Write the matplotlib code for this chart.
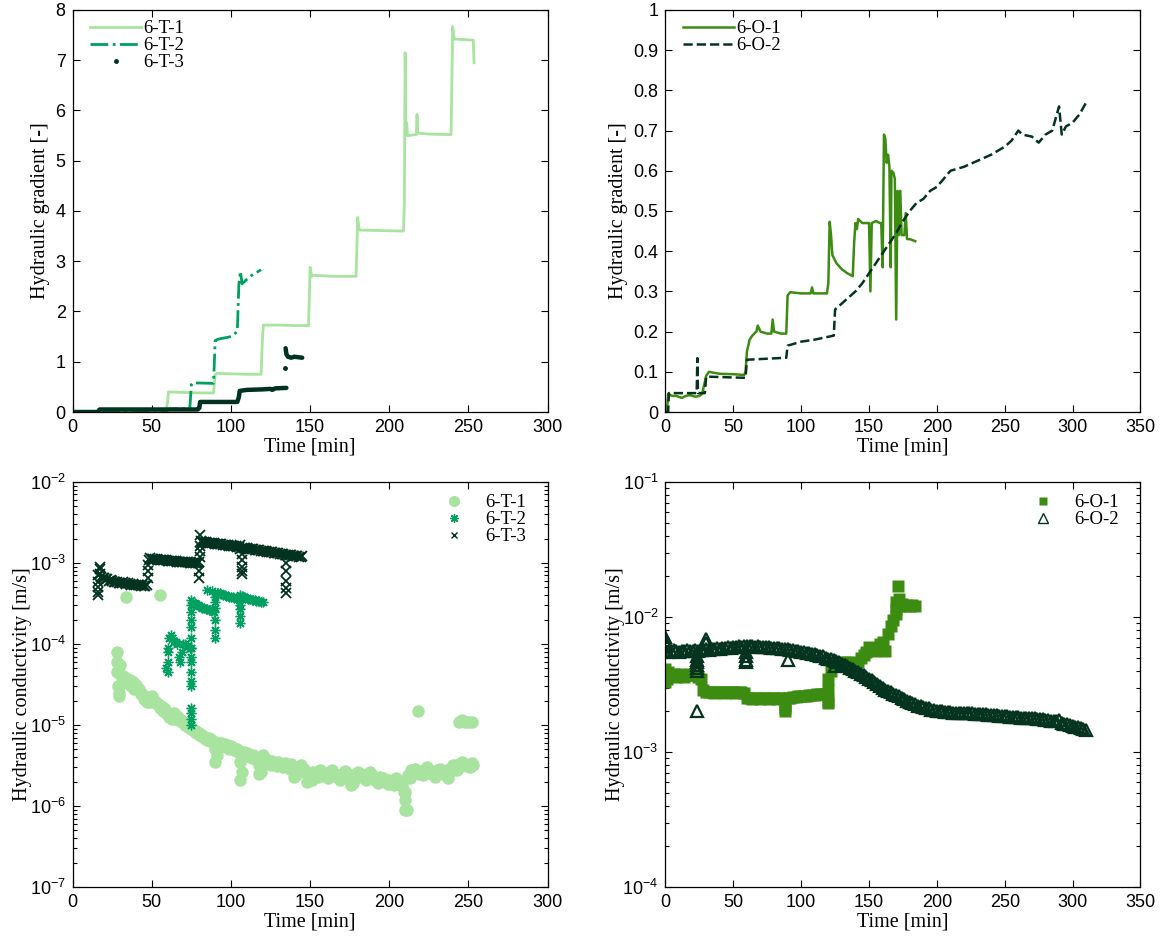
import numpy as np
import matplotlib
matplotlib.use("Agg")
import matplotlib.pyplot as plt
from matplotlib.lines import Line2D
from matplotlib.ticker import FuncFormatter

# ---- colours ----
C_T1 = "#a8e3a0"
C_T2 = "#00a060"
C_T3 = "#00331f"
C_O1 = "#3d8c12"
C_O2 = "#04331f"

# ---- top-left: hydraulic gradient, 6-T tests (time [min], gradient [-]) ----
T1_grad_t = [0, 28, 59, 60, 60.5, 70, 80, 89, 90, 91, 100, 110, 119, 120, 120.5, 130, 140, 149,
             150, 151, 152, 165, 179, 180, 181, 195, 209, 209.5, 210, 210.5, 211, 211.5, 217,
             217.5, 218, 225, 239, 240, 241, 253, 253.5]
T1_grad = [0, 0.01, 0.02, 0.2, 0.4, 0.39, 0.38, 0.38, 0.74, 0.77, 0.76, 0.75, 0.75, 1.55, 1.73,
           1.73, 1.72, 1.72, 2.88, 2.7, 2.72, 2.7, 2.7, 3.87, 3.62, 3.61, 3.6, 4.2, 7.15, 5.6,
           5.75, 5.5, 5.52, 5.92, 5.55, 5.53, 5.52, 7.67, 7.42, 7.4, 6.95]
T2_grad_t = [0, 20, 40, 60, 61, 74, 75, 76, 89, 90, 92, 100, 104, 105, 106, 107, 112, 119]
T2_grad = [0, 0.0, 0.01, 0.03, 0.06, 0.07, 0.55, 0.58, 0.57, 1.42, 1.45, 1.5, 1.6, 2.55, 2.8,
           2.55, 2.7, 2.83]
T3_grad_t = [0, 16, 17, 50, 79, 80, 80.5, 104, 105, 105.5, 110, 120, 125, 126, 128, 135]
T3_grad = [0, 0.0, 0.05, 0.05, 0.05, 0.08, 0.2, 0.2, 0.3, 0.42, 0.44, 0.45, 0.46, 0.44, 0.47, 0.48]
T3_grad2_t = [134.5, 135, 136, 138, 140, 145]
T3_grad2 = [1.27, 1.15, 1.1, 1.08, 1.1, 1.08]
T3_dot_t = [134]
T3_dot = [0.87]

# ---- top-right: hydraulic gradient, 6-O tests ----
O1_grad_t = [0, 1, 2, 5, 8, 12, 15, 18, 22, 25, 27, 28, 30, 32, 40, 50, 58, 59, 60, 62, 64, 67,
             68, 70, 75, 78, 79, 80, 85, 89, 90, 92, 100, 107, 108, 109, 119, 120, 121, 122, 123,
             126, 130, 134, 138, 139, 140, 141, 142, 145, 150, 151, 152, 155, 158, 159, 160, 161,
             162, 163, 164, 165, 166, 166.5, 168, 169, 170, 171, 172, 173, 174, 176, 177, 178,
             180, 184]
O1_grad = [0, 0, 0.045, 0.04, 0.04, 0.035, 0.04, 0.042, 0.038, 0.04, 0.045, 0.06, 0.09, 0.1,
           0.095, 0.094, 0.092, 0.1, 0.15, 0.18, 0.19, 0.2, 0.215, 0.2, 0.195, 0.195, 0.23, 0.2,
           0.195, 0.195, 0.29, 0.298, 0.295, 0.295, 0.31, 0.295, 0.295, 0.32, 0.473, 0.44, 0.39,
           0.37, 0.355, 0.345, 0.338, 0.42, 0.47, 0.455, 0.48, 0.47, 0.47, 0.30, 0.47, 0.475,
           0.47, 0.47, 0.36, 0.69, 0.68, 0.62, 0.64, 0.61, 0.36, 0.6, 0.595, 0.58, 0.23, 0.55,
           0.44, 0.55, 0.44, 0.44, 0.495, 0.43, 0.43, 0.425]
O2_grad_t = [0, 2, 2.5, 23, 23.5, 24, 29, 30, 59, 60, 89, 90, 100, 110, 124, 125, 130, 135, 140,
             145, 150, 155, 160, 165, 170, 175, 180, 185, 190, 195, 200, 205, 210, 220, 230, 240,
             250, 255, 260, 263, 270, 275, 280, 285, 290, 292, 295, 300, 305, 310]
O2_grad = [0, 0, 0.047, 0.047, 0.134, 0.047, 0.047, 0.088, 0.085, 0.13, 0.135, 0.165, 0.175,
           0.18, 0.19, 0.255, 0.27, 0.285, 0.30, 0.32, 0.345, 0.37, 0.395, 0.42, 0.445, 0.475,
           0.5, 0.52, 0.53, 0.55, 0.56, 0.58, 0.6, 0.61, 0.625, 0.64, 0.66, 0.675, 0.7, 0.69,
           0.685, 0.67, 0.69, 0.70, 0.76, 0.69, 0.71, 0.72, 0.74, 0.77]

# ---- bottom-left: hydraulic conductivity, 6-T tests ----
T1_k_start, T1_k_step = 28, 2          # 6-T-1 sampled every 2 min, values in 1e-6 m/s
T1_k = [45, 42, 40, 38, 36, 34, 31, 28, 24, 21, 22, 23, 20, 18, 17, 16, 14, 13, 14, 13,
        12, 11, 10.5, 10, 9, 8.5, 8, 7.5, 7, 7, 6.5, 5.0, 6, 6, 5.8, 5.5, 5.5, 5.2, 5, 3.5,
        4.6, 4.5, 4.2, 4.3, 4, 3.2, 4.2, 3.8, 3.5, 3.6, 3.4, 3.5, 3.2, 3.4, 3.2, 3.3, 2.9, 3.0,
        3.2, 2.9, 2.5, 2.3, 2.6, 2.5, 2.8, 2.6, 2.4, 2.6, 2.8, 2.5, 2.3, 2.5, 2.7, 2.5, 2.2,
        2.4, 2.6, 2.5, 2.3, 2.5, 2.6, 2.3, 2.1, 2.3, 2.2, 2.0, 2.1, 2.0, 2.2, 2.0, 1.8, 1.2,
        2.4, 2.8, 2.9, 2.7, 2.6, 2.8, 3.0, 2.7, 2.5, 2.8, 2.9, 2.6, 2.4, 2.9, 3.2, 3.0, 3.3,
        3.5, 3.3, 3.2, 3.4]
# a second, slightly offset reading of the same band (the scatter is thick in the figure)
T1_k_b = [30, 33, 35, 33, 30, 28, 27, 24, 21, 19, 19, 20, 18, 16, 15, 14, 12.5, 12, 12, 11.5,
          11, 10, 9.5, 9, 8.2, 7.8, 7.4, 7, 6.5, 6.4, 6, 4.2, 5.6, 5.5, 5.3, 5.1, 5, 4.8, 4.6, 2.6,
          4.2, 4.1, 3.9, 3.9, 3.7, 2.6, 3.9, 3.5, 3.2, 3.3, 3.1, 3.2, 3.0, 3.1, 2.9, 3.0, 2.4, 2.8,
          2.9, 2.7, 2.3, 2.1, 2.4, 2.3, 2.5, 2.4, 2.2, 2.4, 2.5, 2.3, 2.1, 2.3, 2.5, 2.3, 1.9,
          2.2, 2.4, 2.3, 2.1, 2.3, 2.4, 2.1, 1.9, 2.1, 2.0, 1.85, 1.9, 1.8, 2.0, 1.8, 1.5, 0.9,
          2.2, 2.5, 2.6, 2.5, 2.4, 2.6, 2.7, 2.5, 2.3, 2.6, 2.7, 2.4, 2.2, 2.7, 3.0, 2.8, 3.1,
          3.2, 3.1, 3.0, 3.2]
T1_out_t = [28, 28, 28.5, 29, 29, 30, 34, 55, 90, 106, 118, 140, 148, 176, 210, 210, 218,
            244, 246, 248, 250, 252]
T1_out = [80, 60, 30, 25, 23, 55, 380, 400, 3.5, 2.1, 2.5, 2.3, 2.0, 1.8, 0.9, 1.5, 15,
          11, 11.5, 11, 11, 10.8]

T2_k_start, T2_k_step = 59, 1          # 6-T-2, values in 1e-5 m/s
T2_k = [5, 9, 12, 13, 12, 11, 10.5, 10, 7, 6, 8, 10, 10, 9.5, 9.5, 9, 9, 30, 32, 31, 30,
        29, 28.5, 28, 28, 27, 27, 26.5, 26, 26, 25, 38, 42, 43, 42, 41, 40, 40, 39, 39, 38,
        38, 37.5, 37, 37, 36, 36, 40, 39, 38, 37, 37, 36, 36, 35, 35, 34.5, 34, 34, 33.5, 33, 33]
T2_out_t = [60, 60, 60, 75, 75, 75, 75, 75, 75, 75, 75, 75, 75, 75, 75, 75, 75, 75, 75,
            85, 88, 90, 90, 90, 90, 90, 106, 106, 106, 106]
T2_out = [4.5, 6, 8, 35, 30, 25, 20, 16, 12, 9, 7, 6, 4.5, 3.5, 3, 1.6, 1.4, 1.2, 1.0,
          47, 45, 12, 15, 20, 28, 33, 18, 22, 27, 30]

T3_k_start, T3_k_step = 16, 1          # 6-T-3, values in 1e-4 m/s
T3_k = [7.0, 7.4, 6.8, 6.6, 6.5, 6.4, 6.3, 6.0, 6.2, 6.0, 5.9, 5.8, 5.8, 5.7, 5.7, 5.6, 5.8,
        5.6, 5.5, 5.6, 5.5, 5.4, 5.5, 5.4, 5.3, 5.4, 5.3, 5.2, 5.3, 5.2, 5.2, 5.3,
        11.0, 11.5, 11.3, 11.2, 11.2, 11.1, 11.0, 11.0, 10.9, 10.9, 10.8, 10.8, 10.7, 10.7,
        10.6, 10.6, 10.5, 10.5, 10.4, 10.4, 10.4, 10.3, 10.3, 10.2, 10.2, 10.2, 10.1, 10.1,
        10.0, 10.0, 10.0, 10.1, 10.3,
        18.5, 18.2, 18.0, 17.9, 17.8, 17.7, 17.6, 17.5, 17.4, 17.3,
        17.2, 17.1, 17.0, 16.9, 16.8, 16.7, 16.6, 16.5, 16.4, 16.3,
        16.2, 16.1, 16.0, 15.9, 15.8, 15.0, 15.5, 15.4, 15.3, 15.2,
        15.0, 14.9, 14.8, 14.7, 14.6, 14.5, 14.4, 14.3, 14.2, 14.1,
        14.0, 13.9, 13.8, 13.7, 13.6, 13.5, 13.4, 13.3, 13.2, 13.1,
        13.0, 12.9, 12.8, 12.7, 12.5, 12.6, 12.5, 12.4, 12.3, 12.2,
        12.2, 12.1, 12.0, 12.0, 12.1]
T3_out_t = [16, 16, 16, 16, 17, 17, 47.5, 47.5, 47.5, 80, 80, 80.5, 80.5, 80.5, 80.5, 106,
            107, 107, 107, 107, 107, 135, 135, 135, 135, 135]
T3_out = [4.0, 4.4, 5.0, 5.8, 8.5, 9, 6.5, 8, 9.5, 6.5, 8, 12, 14, 16, 22, 16.5,
          7.4, 8, 9, 11, 13, 4.9, 4.2, 6, 8, 10]

# ---- bottom-right: hydraulic conductivity, 6-O tests (values in 1e-3 m/s) ----
O1_k_start, O1_k_step = 0, 2
O1_k = [3.8, 3.9, 3.7, 3.8, 3.6, 3.8, 3.7, 3.6, 3.7, 3.8,
        3.7, 3.7, 3.6, 3.5, 2.9, 2.8, 2.8, 2.8, 2.75, 2.8,
        2.8, 2.8, 2.75, 2.8, 2.8, 2.8, 2.75, 2.8, 2.8, 2.75,
        2.5, 2.5, 2.45, 2.5, 2.5, 2.45, 2.5, 2.5, 2.45, 2.5,
        2.5, 2.45, 2.5, 2.5, 2.1, 2.5, 2.5, 2.55, 2.55, 2.6,
        2.6, 2.6, 2.6, 2.65, 2.65, 2.65, 2.7, 2.7, 2.7, 2.7,
        2.4, 4.0, 4.3, 4.4, 4.5, 4.5, 4.6, 4.6, 4.5, 4.2,
        4.0, 4.6, 5.0, 5.2, 5.5, 6.0, 5.8, 5.6, 5.8, 6.3,
        6.5, 5.6, 7.5, 8.5, 9.5, 10.5, 12, 12.5, 12, 12.2,
        12, 12.3, 12]
O1_out_t = [0, 0, 1, 88, 88, 120, 120, 120, 170, 170, 171, 172]
O1_out = [3.3, 4.1, 3.5, 2.0, 2.2, 2.3, 2.9, 3.5, 11.5, 13, 17, 13.5]

O2_k_start, O2_k_step = 0, 2
O2_k = [5.6, 5.5, 5.6, 5.7, 5.6, 5.5, 5.6, 5.6, 5.7, 5.6, 5.6,
        5.7, 5.6, 5.7, 5.7, 5.8, 5.7, 5.8, 5.8, 5.9, 5.8,
        5.9, 5.9, 6.0, 5.9, 6.0, 6.0, 6.1, 6.0, 6.1, 6.1,
        6.1, 6.1, 6.0, 6.1, 6.0, 6.0, 6.0, 6.0, 5.9, 5.9,
        5.9, 5.9, 5.8, 5.8, 5.8, 5.7, 5.7, 5.6, 5.6, 5.5,
        5.5, 5.4, 5.4, 5.3, 5.3, 5.2, 5.1, 5.1, 5.0, 4.9,
        4.9, 4.8, 4.7, 4.6, 4.5, 4.4, 4.3, 4.2, 4.1, 4.0,
        3.9, 3.8, 3.7, 3.6, 3.5, 3.4, 3.3, 3.2, 3.1, 3.0,
        2.9, 2.85, 2.8, 2.7, 2.65, 2.6, 2.5, 2.45, 2.4, 2.35,
        2.3, 2.25, 2.2, 2.2, 2.15, 2.1, 2.1, 2.05, 2.05, 2.0,
        2.0, 2.0, 1.98, 1.98, 1.97, 1.96, 1.96, 1.95, 1.95, 1.95,
        1.94, 1.93, 1.93, 1.92, 1.92, 1.91, 1.9, 1.9, 1.89, 1.88,
        1.88, 1.87, 1.86, 1.86, 1.85, 1.84, 1.83, 1.83, 1.82, 1.81,
        1.8, 1.8, 1.79, 1.78, 1.77, 1.77, 1.76, 1.75, 1.74, 1.73,
        1.72, 1.71, 1.7, 1.69, 1.72, 1.65, 1.62, 1.6, 1.58, 1.56,
        1.54, 1.52, 1.5, 1.48, 1.46]
O2_out_t = [0, 0, 0, 1, 23, 23, 23, 23, 23, 23, 23, 30, 30, 59, 59, 59, 59, 90, 125]
O2_out = [6.5, 7.1, 6.8, 6.2, 5.1, 4.8, 4.6, 4.4, 4.2, 4.0, 2.0, 6.9, 6.4, 5.5, 5.1, 4.8,
          4.6, 4.8, 4.3]


def sample_times(start, step, values):
    return start + step * np.arange(len(values))


plt.rcParams["mathtext.fontset"] = "custom"
plt.rcParams["mathtext.rm"] = "Liberation Sans"
SERIF = "Liberation Serif"
SANS = "Liberation Sans"
TICK_FS = 13
LABEL_FS = 14.5
LEGEND_FS = 13.5

fig = plt.figure(figsize=(11.64, 9.4), dpi=100)
ax_tl = fig.add_axes([0.0624, 0.5617, 0.4081, 0.4277])
ax_tr = fig.add_axes([0.5717, 0.5617, 0.4081, 0.4277])
ax_bl = fig.add_axes([0.0624, 0.0564, 0.4081, 0.4309])
ax_br = fig.add_axes([0.5717, 0.0564, 0.4081, 0.4309])

LEG_LINE = dict(loc="upper left", bbox_to_anchor=(0.037, 0.975), frameon=False,
                prop={"family": SERIF, "size": LEGEND_FS}, labelspacing=0.0,
                handlelength=2.7, handletextpad=0.15, borderaxespad=0.0, borderpad=0.0)
LEG_MARK = dict(loc="upper right", bbox_to_anchor=(0.955, 0.97), frameon=False,
                prop={"family": SERIF, "size": LEGEND_FS}, labelspacing=0.0,
                handlelength=1.0, handletextpad=1.2, borderaxespad=0.0, borderpad=0.0)


def style(ax, ylabel, ypad=3):
    ax.tick_params(which="both", direction="in", top=True, right=True, labelsize=TICK_FS,
                   pad=5, width=0.8)
    ax.tick_params(which="major", length=5)
    ax.tick_params(which="minor", length=3)
    for lab in ax.get_xticklabels() + ax.get_yticklabels():
        lab.set_fontfamily(SANS)
    for sp in ax.spines.values():
        sp.set_linewidth(0.9)
    ax.set_xlabel("Time [min]", family=SERIF, fontsize=LABEL_FS, labelpad=1)
    ax.set_ylabel(ylabel, family=SERIF, fontsize=LABEL_FS, labelpad=ypad)


# top-left
ax_tl.plot(T1_grad_t, T1_grad, color=C_T1, lw=2.0, label="6-T-1")
ax_tl.plot(T2_grad_t, T2_grad, color=C_T2, lw=2.0, ls="-.", label="6-T-2")
ax_tl.plot(T3_grad_t, T3_grad, color=C_T3, lw=3.2, solid_capstyle="round")
ax_tl.plot(T3_grad2_t, T3_grad2, color=C_T3, lw=3.2, solid_capstyle="round")
ax_tl.plot(T3_dot_t, T3_dot, ".", color=C_T3, ms=5)
ax_tl.set_xlim(0, 300)
ax_tl.set_ylim(0, 8)
ax_tl.set_xticks(range(0, 301, 50))
ax_tl.set_yticks(range(0, 9))
h_tl = [Line2D([], [], color=C_T1, lw=2.0),
        Line2D([], [], color=C_T2, lw=2.0, ls="-."),
        Line2D([], [], color=C_T3, ls="none", marker=".", ms=5)]
ax_tl.legend(h_tl, ["6-T-1", "6-T-2", "6-T-3"], **LEG_LINE)
style(ax_tl, "Hydraulic gradient [-]", ypad=4)

# top-right
ax_tr.plot(O1_grad_t, O1_grad, color=C_O1, lw=1.8, label="6-O-1")
ax_tr.plot(O2_grad_t, O2_grad, color=C_O2, lw=1.8, ls="--", label="6-O-2")
ax_tr.set_xlim(0, 350)
ax_tr.set_ylim(0, 1)
ax_tr.set_xticks(range(0, 351, 50))
ax_tr.set_yticks(np.linspace(0, 1, 11))
ax_tr.yaxis.set_major_formatter(FuncFormatter(lambda v, p: f"{v:g}"))
ax_tr.legend(**LEG_LINE)
style(ax_tr, "Hydraulic gradient [-]", ypad=4)

# bottom-left
t1 = sample_times(T1_k_start, T1_k_step, T1_k)
t1b = sample_times(T1_k_start + 1, T1_k_step, T1_k_b)
t2 = sample_times(T2_k_start, T2_k_step, T2_k)
t3 = sample_times(T3_k_start, T3_k_step, T3_k)
ax_bl.plot(np.r_[t1, t1b, T1_out_t], np.r_[T1_k, T1_k_b, T1_out] * 1e-6, "o", color=C_T1,
           mec="none", ms=9, label="6-T-1")
ax_bl.plot(np.r_[t2, T2_out_t], np.r_[T2_k, T2_out] * 1e-5, ls="none", marker=(8, 2, 0),
           color=C_T2, ms=7, mew=1.0, label="6-T-2")
ax_bl.plot(np.r_[t3, T3_out_t], np.r_[T3_k, T3_out] * 1e-4, "x", color=C_T3, ms=6.5,
           mew=1.3, label="6-T-3")
ax_bl.set_yscale("log")
ax_bl.set_xlim(0, 300)
ax_bl.set_ylim(1e-7, 1e-2)
ax_bl.set_xticks(range(0, 301, 50))
h_bl = [Line2D([], [], ls="none", marker="o", color=C_T1, mec="none", ms=8),
        Line2D([], [], ls="none", marker=(8, 2, 0), color=C_T2, ms=6, mew=1.0),
        Line2D([], [], ls="none", marker="x", color=C_T3, ms=5, mew=1.0)]
ax_bl.legend(h_bl, ["6-T-1", "6-T-2", "6-T-3"], **LEG_MARK)
style(ax_bl, "Hydraulic conductivity [m/s]", ypad=-2)

# bottom-right
o1 = sample_times(O1_k_start, O1_k_step, O1_k)
o2 = sample_times(O2_k_start, O2_k_step, O2_k)
ax_br.plot(np.r_[o1, O1_out_t], np.r_[O1_k, O1_out] * 1e-3, "s", color=C_O1, mec="none",
           ms=8, label="6-O-1")
ax_br.plot(np.r_[o2, O2_out_t], np.r_[O2_k, O2_out] * 1e-3, "^", color=C_O2, mfc="none",
           ms=9, mew=1.6, label="6-O-2")
ax_br.set_yscale("log")
ax_br.set_xlim(0, 350)
ax_br.set_ylim(1e-4, 1e-1)
ax_br.set_xticks(range(0, 351, 50))
h_br = [Line2D([], [], ls="none", marker="s", color=C_O1, mec="none", ms=6),
        Line2D([], [], ls="none", marker="^", color=C_O2, mfc="none", ms=7, mew=1.0)]
ax_br.legend(h_br, ["6-O-1", "6-O-2"], **LEG_MARK)
style(ax_br, "Hydraulic conductivity [m/s]", ypad=-2)

fig.savefig("out.png", dpi=100)
